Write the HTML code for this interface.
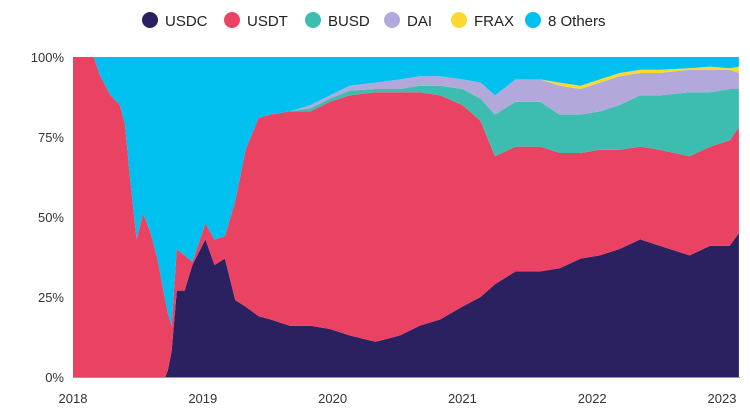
<!DOCTYPE html>
<html><head><meta charset="utf-8"><style>
body{margin:0;background:#fff;font-family:"Liberation Sans",sans-serif;}
svg{display:block}
</style></head><body>
<svg id="c" width="750" height="413"></svg>
<script>
const dates=[2018.0,2018.16,2018.21,2018.29,2018.36,2018.40,2018.44,2018.49,2018.54,2018.59,2018.65,2018.71,2018.73,2018.76,2018.80,2018.86,2018.92,2019.02,2019.09,2019.17,2019.25,2019.33,2019.43,2019.52,2019.67,2019.83,2019.98,2020.13,2020.33,2020.52,2020.67,2020.83,2021.0,2021.14,2021.25,2021.41,2021.60,2021.75,2021.91,2022.06,2022.21,2022.37,2022.52,2022.75,2022.91,2023.06,2023.13];
const usdc=[0,0,0,0,0,0,0,0,0,0,0,0,2,8,27,27,35,43,35,37,24,22,19,18,16,16,15,13,11,13,16,18,22,25,29,33,33,34,37,38,40,43,41,38,41,41,45];
const usdt=[100,100,94,88,85,79,62,43,51,46,37,24,18,8,13,11,1,5,8,7,31,49,62,64,67,67,71,75,78,76,73,70,63,55,40,39,39,36,33,33,31,29,30,31,31,33,33];
const busd=[0,0,0,0,0,0,0,0,0,0,0,0,0,0,0,0,0,0,0,0,0,0,0,0,0,1,1,1.5,1,1,2,3,5,7,13,14,14,12,12,12,14,16,17,20,17,16,12];
const dai=[0,0,0,0,0,0,0,0,0,0,0,0,0,0,0,0,0,0,0,0,0,0,0,0,0,1,1,1.5,2,3,3,3,3,5,6,7,7,9,8,9,9,7,7,7,7,6,5];
const frax=[0,0,0,0,0,0,0,0,0,0,0,0,0,0,0,0,0,0,0,0,0,0,0,0,0,0,0,0,0,0,0,0,0,0,0,0,0,1,1,1,1,1,1,0.5,1,0.5,2];
const seriesNames=["USDC","USDT","BUSD","DAI","FRAX","8 Others"];
const colors=["#2b2160","#ea4263","#3dbdb0","#b3a8dc","#fcd932","#00c0ef"];
const yTicks=[0,25,50,75,100];
const xTicks=[2018,2019,2020,2021,2022,2023];

const NS="http://www.w3.org/2000/svg";
const svg=document.getElementById('c');
const X0=73,X1=739,Y0=377,Y1=57;
const xs=t=>X0+(t-2018)*129.8;
const ys=v=>Y0-(v/100)*(Y0-Y1);
function mk(tag,attrs,parent){const e=document.createElementNS(NS,tag);for(const k in attrs)e.setAttribute(k,attrs[k]);(parent||svg).appendChild(e);return e;}

const others=dates.map((d,i)=>Math.max(0,100-usdc[i]-usdt[i]-busd[i]-dai[i]-frax[i]));
const all=[usdc,usdt,busd,dai,frax,others];
let base=dates.map(()=>0);
const names=["area-usdc","area-usdt","area-busd","area-dai","area-frax","area-others"];
all.forEach((s,k)=>{
  const top=base.map((b,i)=>b+s[i]);
  let d="M"+dates.map((t,i)=>xs(t).toFixed(1)+","+ys(top[i]).toFixed(1)).join("L");
  for(let i=dates.length-1;i>=0;i--)d+="L"+xs(dates[i]).toFixed(1)+","+ys(base[i]).toFixed(1);
  d+="Z";
  const p=mk('path',{d:d,fill:colors[k]});
  
  
  base=top;
});
const ax=mk('line',{x1:X0,x2:X1+1,y1:Y0+0.5,y2:Y0+0.5,stroke:'#999','stroke-width':1});


yTicks.forEach(v=>{
  const t=mk('text',{x:64,y:ys(v)+5,'text-anchor':'end','font-size':13,fill:'#333'});
  t.textContent=v+"%";
  
  
});
xTicks.forEach(v=>{
  const t=mk('text',{x:xs(v),y:403,'text-anchor':'middle','font-size':13,fill:'#333'});
  t.textContent=v;
  
  
});
const legX=[150,232,313,392,459,533];
seriesNames.forEach((n,k)=>{
  const g=mk('g',{});
  
  
  mk('circle',{cx:legX[k],cy:20,r:8,fill:colors[k]},g);
  const t=mk('text',{x:legX[k]+15,y:26,'font-size':15,fill:'#222'},g);
  t.textContent=n;
});
</script>
</body></html>
